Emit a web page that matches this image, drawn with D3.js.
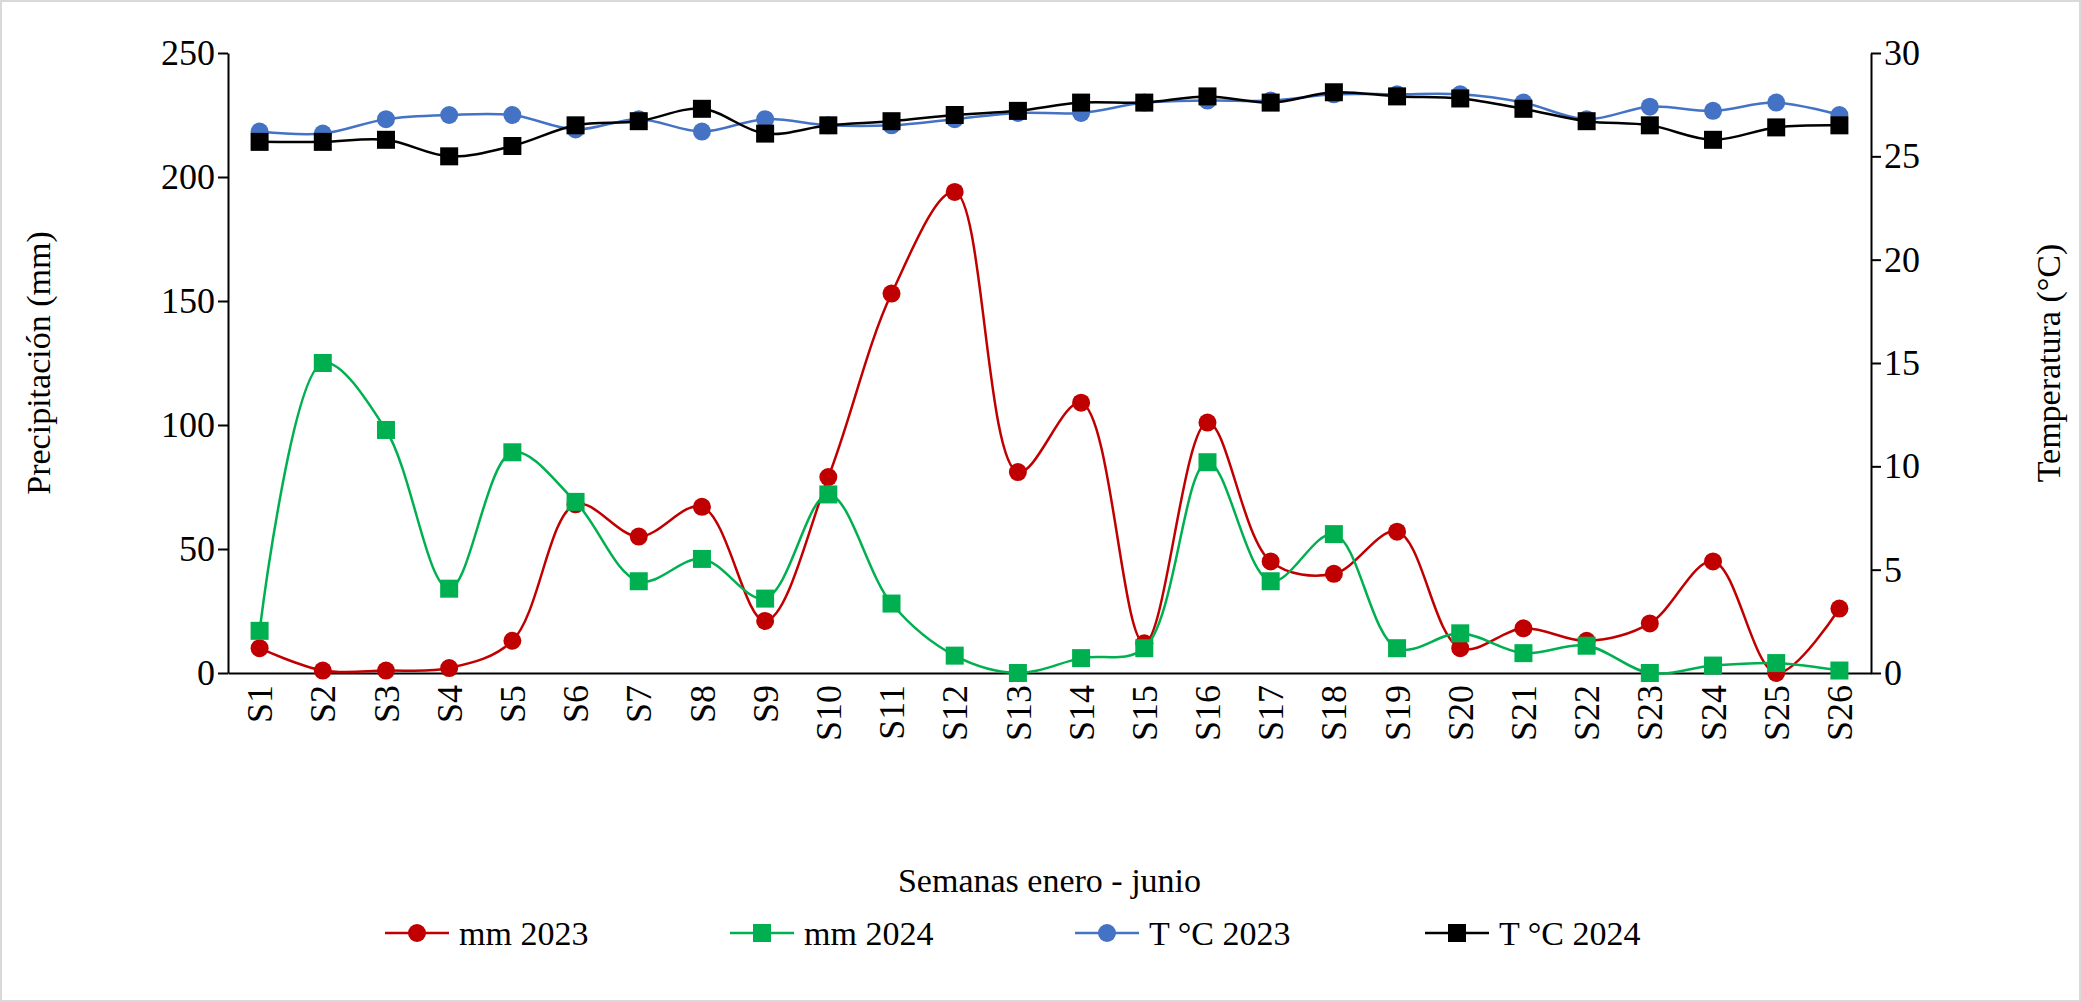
<!DOCTYPE html>
<html><head><meta charset="utf-8">
<script src="https://cdn.jsdelivr.net/npm/d3@7"></script>
<style>body{margin:0;background:#fff}svg{display:block;font-family:"Liberation Serif","Times New Roman",serif}</style>
</head><body>
<svg id="chart" width="2081" height="1002"></svg>
<script>
const weeks = d3.range(1, 27).map((i) => "S" + i);
const mm2023 = [10,1,1,2,13,68,55,67,21,79,153,194,81,109,12,101,45,40,57,10,18,13,20,45,0,26];
const mm2024 = [17,125,98,34,89,69,37,46,30,72,28,7,0,6,10,85,37,56,10,16,8,11,0,3,4,1];
const t2023 = [26.2,26.1,26.8,27.0,27.0,26.3,26.8,26.2,26.8,26.5,26.5,26.8,27.1,27.1,27.6,27.7,27.7,28.0,28.0,28.0,27.6,26.8,27.4,27.2,27.6,27.0];
const t2024 = [25.7,25.7,25.8,25.0,25.5,26.5,26.7,27.3,26.1,26.5,26.7,27.0,27.2,27.6,27.6,27.9,27.6,28.1,27.9,27.8,27.3,26.7,26.5,25.8,26.4,26.5];

const svg = d3.select("#chart");
const pLeft = 228, pRight = 1871, pTop = 53, pBottom = 673;

svg.append("rect").attr("x", 1).attr("y", 1).attr("width", 2079).attr("height", 1000)
  .attr("fill", "none").attr("stroke", "#d9d9d9").attr("stroke-width", 2);

const x = d3.scaleBand().domain(weeks).range([pLeft, pRight]);
const yL = d3.scaleLinear().domain([0, 250]).range([pBottom, pTop]);
const yR = d3.scaleLinear().domain([0, 30]).range([pBottom, pTop]);
const cx = (d) => x(d) + x.bandwidth() / 2;

// Axes
const axL = svg.append("g").attr("transform", `translate(${pLeft},0)`)
  .call(d3.axisLeft(yL).tickValues(d3.range(0, 251, 50)).tickSize(10).tickSizeOuter(0));
const axR = svg.append("g").attr("transform", `translate(${pRight},0)`)
  .call(d3.axisRight(yR).tickValues(d3.range(0, 31, 5)).tickSize(10).tickSizeOuter(0));
const axB = svg.append("g").attr("transform", `translate(0,${pBottom})`)
  .call(d3.axisBottom(x).tickSize(0));
[axL, axR, axB].forEach((a) => {
  a.selectAll("path,line").attr("stroke", "#000").attr("stroke-width", 2);
  a.selectAll("text").attr("font-size", 36).attr("fill", "#000")
    .style("font-family", '"Liberation Serif",serif');
});
axB.selectAll("text").attr("transform", "rotate(-90)").attr("text-anchor", "end")
  .attr("x", -12).attr("y", 0).attr("dy", "0.35em");

// Titles
svg.append("text").attr("transform", `translate(50,${(pTop + pBottom) / 2}) rotate(-90)`)
  .attr("text-anchor", "middle").attr("font-size", 34).text("Precipitación (mm)");
svg.append("text").attr("transform", `translate(2060,${(pTop + pBottom) / 2}) rotate(-90)`)
  .attr("text-anchor", "middle").attr("font-size", 34).text("Temperatura (°C)");
svg.append("text").attr("x", (pLeft + pRight) / 2).attr("y", 892)
  .attr("text-anchor", "middle").attr("font-size", 34).text("Semanas enero - junio");

const series = [
  { name: "mm 2023", data: mm2023, y: yL, color: "#C00000", shape: "circle" },
  { name: "mm 2024", data: mm2024, y: yL, color: "#00B050", shape: "square" },
  { name: "T °C 2023", data: t2023, y: yR, color: "#4472C4", shape: "circle" },
  { name: "T °C 2024", data: t2024, y: yR, color: "#000000", shape: "square" },
];

function marker(g, s, px, py) {
  if (s.shape === "circle") {
    g.append("circle").attr("cx", px).attr("cy", py).attr("r", 9).attr("fill", s.color);
  } else {
    g.append("rect").attr("x", px - 9).attr("y", py - 9).attr("width", 18).attr("height", 18).attr("fill", s.color);
  }
}

series.forEach((s) => {
  const line = d3.line().x((d, i) => cx(weeks[i])).y((d) => s.y(d))
    .curve(d3.curveCatmullRom.alpha(0.5));
  svg.append("path").datum(s.data).attr("d", line).attr("fill", "none")
    .attr("stroke", s.color).attr("stroke-width", 2.5);
  const g = svg.append("g");
  s.data.forEach((d, i) => marker(g, s, cx(weeks[i]), s.y(d)));
});

// Legend
const legX = [385, 730, 1075, 1425];
series.forEach((s, i) => {
  const g = svg.append("g");
  const lx = legX[i], ly = 933;
  g.append("line").attr("x1", lx).attr("x2", lx + 64).attr("y1", ly).attr("y2", ly)
    .attr("stroke", s.color).attr("stroke-width", 2.5);
  marker(g, s, lx + 32, ly);
  g.append("text").attr("x", lx + 74).attr("y", ly).attr("dy", "0.35em")
    .attr("font-size", 34).text(s.name);
});
</script>
</body></html>
